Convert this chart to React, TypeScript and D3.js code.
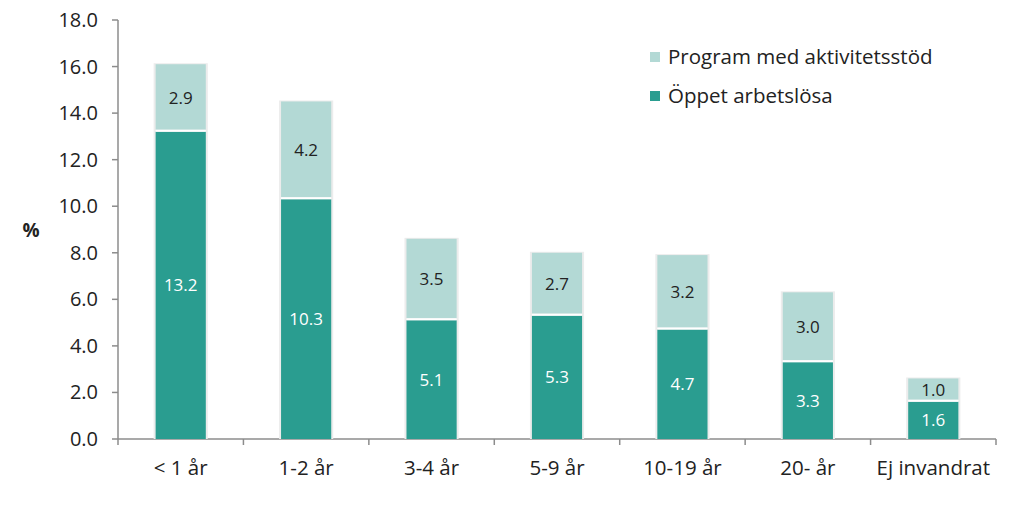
import { useEffect, useRef } from "react";
import * as d3 from "d3";

const categories = ["< 1 år", "1-2 år", "3-4 år", "5-9 år", "10-19 år", "20- år", "Ej invandrat"];
const oppet = [13.2, 10.3, 5.1, 5.3, 4.7, 3.3, 1.6];
const program = [2.9, 4.2, 3.5, 2.7, 3.2, 3.0, 1.0];
const yTicks = [0, 2, 4, 6, 8, 10, 12, 14, 16, 18];
const seriesNames = ["Program med aktivitetsstöd", "Öppet arbetslösa"];

const DARK = "#2a9d90";
const LIGHT = "#b3d9d5";

const App = () => {
  const ref = useRef<SVGSVGElement>(null);

  useEffect(() => {
    const width = 1023;
    const height = 507;
    const left = 118;
    const right = 996;
    const top = 20;
    const bottom = 439;
    const font = "'Open Sans', 'Liberation Sans', sans-serif";

    const svg = d3.select(ref.current).attr("viewBox", `0 0 ${width} ${height}`);
    svg.selectAll("*").remove();

    const x = d3.scaleBand().domain(categories).range([left, right]).paddingInner(0.6).paddingOuter(0.3);
    const y = d3.scaleLinear().domain([0, 18]).range([bottom, top]);

    // y axis
    svg.append("line").attr("x1", left).attr("x2", left).attr("y1", top).attr("y2", bottom)
      .attr("stroke", "#8c8c8c").attr("stroke-width", 1.5);
    yTicks.forEach((t) => {
      svg.append("line").attr("x1", left - 6).attr("x2", left).attr("y1", y(t)).attr("y2", y(t))
        .attr("stroke", "#8c8c8c").attr("stroke-width", 1.5);
      svg.append("text").attr("x", left - 20).attr("y", y(t)).attr("dy", "0.35em")
        .attr("text-anchor", "end").style("font-family", font).style("font-size", "20px")
        .style("fill", "#222").text(t.toFixed(1));
    });
    svg.append("text").attr("x", 31).attr("y", 230).attr("dy", "0.35em").attr("text-anchor", "middle")
      .style("font-family", font).style("font-size", "19px").style("font-weight", "700")
      .style("fill", "#222").text("%");

    // x axis
    svg.append("line").attr("x1", left).attr("x2", right).attr("y1", bottom).attr("y2", bottom)
      .attr("stroke", "#8c8c8c").attr("stroke-width", 1.5);
    const step = (right - left) / categories.length;
    d3.range(categories.length + 1).forEach((i) => {
      svg.append("line").attr("x1", left + i * step).attr("x2", left + i * step)
        .attr("y1", bottom).attr("y2", bottom + 6).attr("stroke", "#8c8c8c").attr("stroke-width", 1.5);
    });
    categories.forEach((c) => {
      svg.append("text").attr("x", x(c)! + x.bandwidth() / 2).attr("y", 468).attr("dy", "0.35em")
        .attr("text-anchor", "middle").style("font-family", font).style("font-size", "20.5px")
        .style("fill", "#222").text(c);
    });

    // bars
    const g = svg.append("g");
    categories.forEach((c, i) => {
      const bx = x(c)!;
      const bw = x.bandwidth();
      // soft shadow
      g.append("rect").attr("x", bx - 2).attr("y", y(oppet[i] + program[i]) - 1)
        .attr("width", bw + 4).attr("height", y(0) - y(oppet[i] + program[i]) + 1)
        .attr("fill", "#ececec");
      g.append("rect").attr("x", bx).attr("y", y(oppet[i]))
        .attr("width", bw).attr("height", y(0) - y(oppet[i]))
        .attr("fill", DARK);
      g.append("rect").attr("x", bx).attr("y", y(oppet[i] + program[i]))
        .attr("width", bw).attr("height", y(oppet[i]) - y(oppet[i] + program[i]) - 2)
        .attr("fill", LIGHT);
      g.append("line").attr("x1", bx).attr("x2", bx + bw).attr("y1", y(oppet[i]) - 1).attr("y2", y(oppet[i]) - 1)
        .attr("stroke", "#fff").attr("stroke-width", 2);
      g.append("text").attr("x", bx + bw / 2).attr("y", (y(0) + y(oppet[i])) / 2).attr("dy", "0.35em")
        .attr("text-anchor", "middle").style("font-family", font).style("font-size", "17px")
        .style("fill", "#fff").text(oppet[i].toFixed(1));
      g.append("text").attr("x", bx + bw / 2).attr("y", (y(oppet[i]) + y(oppet[i] + program[i])) / 2).attr("dy", "0.35em")
        .attr("text-anchor", "middle").style("font-family", font).style("font-size", "17px")
        .style("fill", "#222").text(program[i].toFixed(1));
    });

    // legend
    const colors = [LIGHT, DARK];
    seriesNames.forEach((s, i) => {
      const ly = 57 + i * 39;
      svg.append("rect").attr("x", 650).attr("y", ly - 5).attr("width", 10).attr("height", 10).attr("fill", colors[i]);
      svg.append("text").attr("x", 668).attr("y", ly).attr("dy", "0.35em")
        .style("font-family", font).style("font-size", "20.5px").style("fill", "#222").text(s);
    });
  }, []);

  return (
    <div style={{ width: 1023, height: 507, margin: -8 }}>
      <svg ref={ref} width={1023} height={507} style={{ display: "block" }}></svg>
    </div>
  );
};

export default App;
